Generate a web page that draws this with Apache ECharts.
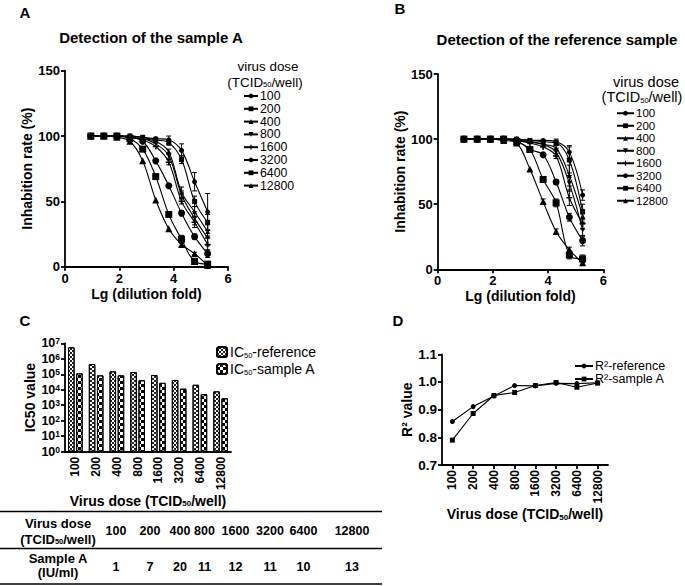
<!DOCTYPE html>
<html>
<head>
<meta charset="utf-8">
<script src="https://cdn.jsdelivr.net/npm/echarts@6/dist/echarts.min.js"></script>
<style>
html,body{margin:0;padding:0;background:#fff;}
#chart{width:685px;height:586px;}
</style>
</head>
<body>
<div id="chart"></div>
<script>
// ---- data ----
var lgDilution = [0.95, 1.43, 1.91, 2.39, 2.86, 3.34, 3.82, 4.29, 4.77, 5.25];
var doses = ['100', '200', '400', '800', '1600', '3200', '6400', '12800'];

// inhibition rate (%) of sample A, one row per virus dose
var inhibSampleA = [
	[100, 100, 100, 100, 99, 98, 97, 89, 65, 42],
	[100, 100, 100, 100, 99, 97, 95, 82, 50, 34],
	[100, 100, 100, 99, 98, 96, 88, 57, 42, 27],
	[100, 100, 100, 99, 98, 94, 85, 55, 37, 22],
	[100, 100, 100, 99, 97, 92, 80, 50, 34, 17],
	[100, 100, 100, 99, 96, 81, 62, 41, 23, 10],
	[100, 100, 100, 98, 90, 69, 40, 21, 4, 2],
	[100, 100, 99, 96, 81, 51, 29, 17, 10, 1]
];
var errSampleA = [
	[0, 0, 0, 0, 0, 1, 3, 5, 7, 14],
	[0, 0, 0, 0, 0, 0, 2, 3, 4, 6],
	[0, 0, 0, 0, 0, 0, 2, 4, 4, 5],
	[0, 0, 0, 0, 0, 0, 2, 3, 5, 6],
	[0, 0, 0, 0, 0, 0, 2, 2, 4, 5],
	[0, 0, 0, 0, 0, 0, 0, 2, 2, 3],
	[0, 0, 0, 0, 0, 0, 0, 3, 2, 1],
	[0, 0, 0, 0, 0, 0, 0, 2, 1, 1]
];

// inhibition rate (%) of the reference sample
var inhibRef = [
	[100, 100, 100, 100, 100, 99, 99, 98, 90, 57],
	[100, 100, 100, 100, 100, 99, 98, 97, 84, 44],
	[100, 100, 100, 100, 99, 98, 96, 93, 72, 41],
	[100, 100, 100, 100, 99, 98, 96, 90, 66, 30],
	[100, 100, 100, 100, 99, 97, 94, 87, 55, 35],
	[100, 100, 100, 100, 99, 92, 88, 67, 40, 22],
	[100, 100, 100, 100, 98, 92, 69, 51, 11, 8],
	[100, 100, 100, 99, 97, 77, 52, 29, 15, 5]
];
var errRef = [
	[0, 0, 0, 0, 0, 0, 0, 2, 5, 4],
	[0, 0, 0, 0, 0, 0, 0, 2, 10, 6],
	[0, 0, 0, 0, 0, 0, 0, 2, 8, 5],
	[0, 0, 0, 0, 0, 0, 0, 3, 6, 5],
	[0, 0, 0, 0, 0, 0, 0, 2, 6, 4],
	[0, 0, 0, 0, 0, 0, 0, 2, 3, 4],
	[0, 0, 0, 0, 0, 0, 2, 3, 3, 3],
	[0, 0, 0, 0, 0, 0, 2, 2, 2, 2]
];

var ic50Ref = [5.5e6, 4.6e5, 1.55e5, 1.38e5, 8.9e4, 4.3e4, 2.1e4, 7.9e3];
var ic50SampleA = [1.15e5, 8.5e4, 8.5e4, 4.1e4, 2.8e4, 1.17e4, 5.2e3, 2.8e3];

var r2Ref = [0.857, 0.911, 0.949, 0.987, 0.986, 0.995, 0.994, 0.997];
var r2SampleA = [0.790, 0.886, 0.951, 0.962, 0.987, 0.998, 0.981, 0.996];

var iuSampleA = [1, 7, 20, 11, 12, 11, 10, 13];

// ---- styles ----
var FF = '"Liberation Sans", Arial, Helvetica, sans-serif';
var markers = ['circle', 'rect', 'triangle', 'triangle', 'path://M3,0H5V3H8V5H5V8H3V5H0V3H3Z', 'circle', 'rect', 'triangle'];
var markerSize = [5, 5, 5, 5, 6, 7, 7, 7];
var markerRotate = [0, 0, 0, 180, 0, 0, 0, 0];

var subRich = {
	sub: {fontSize: 8, fontFamily: FF, fontWeight: 'bold', verticalAlign: 'bottom', lineHeight: 11}
};

function axisBase() {
	return {
		axisLine: {show: true, onZero: false, lineStyle: {color: '#000', width: 1.8}},
		axisTick: {show: true, inside: false, length: 4, lineStyle: {color: '#000', width: 1.8}},
		axisLabel: {color: '#000', fontFamily: FF, fontWeight: 'bold', fontSize: 13, margin: 5},
		splitLine: {show: false},
		nameTextStyle: {color: '#000', fontFamily: FF, fontWeight: 'bold', fontSize: 14, rich: subRich}
	};
}

function mk(base, extra) {
	return echarts.util.merge(base, extra, true);
}

function errRender(params, api) {
	var x = api.value(0), y = api.value(1), e = api.value(2);
	var hi = api.coord([x, y + e]);
	var lo = api.coord([x, Math.max(0, y - e)]);
	var w = 2.5;
	var st = {stroke: '#000', lineWidth: 1};
	return {
		type: 'group',
		children: [
			{type: 'line', shape: {x1: hi[0], y1: hi[1], x2: lo[0], y2: lo[1]}, style: st},
			{type: 'line', shape: {x1: hi[0] - w, y1: hi[1], x2: hi[0] + w, y2: hi[1]}, style: st},
			{type: 'line', shape: {x1: lo[0] - w, y1: lo[1], x2: lo[0] + w, y2: lo[1]}, style: st}
		]
	};
}

var series = [];
function addCurves(values, errs, axisIdx) {
	for (var i = 0; i < doses.length; i++) {
		var pts = [], eb = [];
		for (var j = 0; j < lgDilution.length; j++) {
			pts.push([lgDilution[j], values[i][j]]);
			if (errs[i][j] > 0) eb.push([lgDilution[j], values[i][j], errs[i][j]]);
		}
		series.push({
			type: 'line', name: doses[i], xAxisIndex: axisIdx, yAxisIndex: axisIdx,
			data: pts, smooth: 0.35, symbol: markers[i], symbolSize: markerSize[i],
			symbolRotate: markerRotate[i], showAllSymbol: true, z: 3,
			lineStyle: {color: '#000', width: 1.1}, itemStyle: {color: '#000'}
		});
		series.push({
			type: 'custom', xAxisIndex: axisIdx, yAxisIndex: axisIdx, silent: true, z: 2,
			renderItem: errRender, data: eb
		});
	}
}
addCurves(inhibSampleA, errSampleA, 0);
addCurves(inhibRef, errRef, 1);

var decalRef = {symbol: 'rect', symbolSize: 1, color: '#222', backgroundColor: '#fff',
	dashArrayX: [[1.5, 1.5], [0, 1.5, 1.5, 0]], dashArrayY: [1.5, 0], rotation: 0};
var decalA = {symbol: 'rect', symbolSize: 1, color: '#000', backgroundColor: '#fff',
	dashArrayX: [[3, 3], [0, 3, 3, 0]], dashArrayY: [3, 0], rotation: 0};

series.push({
	type: 'bar', name: 'IC50-reference', xAxisIndex: 2, yAxisIndex: 2, data: ic50Ref,
	barWidth: 6.5, barGap: '25%',
	itemStyle: {color: '#fff', borderColor: '#000', borderWidth: 1, decal: decalRef}
});
series.push({
	type: 'bar', name: 'IC50-sample A', xAxisIndex: 2, yAxisIndex: 2, data: ic50SampleA,
	barWidth: 6.5, barGap: '25%',
	itemStyle: {color: '#fff', borderColor: '#000', borderWidth: 1, decal: decalA}
});

series.push({
	type: 'line', name: 'R²-reference', xAxisIndex: 3, yAxisIndex: 3, data: r2Ref,
	symbol: 'circle', symbolSize: 5, lineStyle: {color: '#000', width: 1.1}, itemStyle: {color: '#000'}
});
series.push({
	type: 'line', name: 'R²-sample A', xAxisIndex: 3, yAxisIndex: 3, data: r2SampleA,
	symbol: 'rect', symbolSize: 5, lineStyle: {color: '#000', width: 1.1}, itemStyle: {color: '#000'}
});

// ---- free text and the table ----
function txt(x, y, text, size, bold, align) {
	return {
		type: 'text', x: x, y: y, silent: true,
		style: {
			text: text, fill: '#000', fontFamily: FF, fontSize: size,
			fontWeight: bold ? 'bold' : 'normal', align: align || 'center', verticalAlign: 'middle',
			rich: {sub: {fontSize: 7.5, fontFamily: FF, fontWeight: bold ? 'bold' : 'normal', verticalAlign: 'bottom', lineHeight: 11}}
		}
	};
}
function hline(x1, x2, y) {
	return {type: 'line', silent: true, shape: {x1: x1, y1: y, x2: x2, y2: y}, style: {stroke: '#000', lineWidth: 1.5}};
}

var graphics = [
	txt(25, 12, 'A', 15, true), txt(400, 8, 'B', 15, true),
	txt(25, 320, 'C', 15, true), txt(398, 320, 'D', 15, true),
	txt(151, 37, 'Detection of the sample A', 15, true),
	txt(557, 39, 'Detection of the reference sample', 15, true),
	txt(268, 66, 'virus dose', 13.4, false),
	txt(265, 82, '(TCID{sub|50}/well)', 13.4, false),
	txt(646, 82, 'virus dose', 14.5, false),
	txt(642, 97, '(TCID{sub|50}/well)', 14.5, false),
	hline(0, 382, 511.5), hline(0, 382, 548.5), hline(0, 382, 584),
	txt(58, 523, 'Virus dose', 13, true),
	txt(58, 539, '(TCID{sub|50}/well)', 13, true),
	txt(58, 558, 'Sample A', 13, true),
	txt(58, 572, '(IU/ml)', 13, true)
];
var colX = [116, 150, 180, 204.5, 235.5, 270, 303.5, 352];
for (var c = 0; c < doses.length; c++) {
	graphics.push(txt(colX[c], 531, doses[c], 12.5, true));
	graphics.push(txt(colX[c], 567, String(iuSampleA[c]), 12.5, true));
}

var option = {
	backgroundColor: '#fff',
	animation: false,
	grid: [
		{left: 65, top: 70.7, right: 457, bottom: 319.3},
		{left: 437.7, top: 74, right: 81.7, bottom: 316.7},
		{left: 65, top: 343.3, right: 454, bottom: 134.3},
		{left: 442, top: 354.3, right: 77, bottom: 121}
	],
	xAxis: [
		mk(axisBase(), {type: 'value', gridIndex: 0, min: 0, max: 6, interval: 2,
			name: 'Lg (dilution fold)', nameLocation: 'middle', nameGap: 20}),
		mk(axisBase(), {type: 'value', gridIndex: 1, min: 0, max: 6, interval: 2,
			name: 'Lg (dilution fold)', nameLocation: 'middle', nameGap: 20}),
		mk(axisBase(), {type: 'category', gridIndex: 2, data: doses,
			axisTick: {show: false}, axisLabel: {rotate: 90, fontSize: 12, margin: 5},
			name: 'Virus dose (TCID{sub|50}/well)', nameLocation: 'middle', nameGap: 42}),
		mk(axisBase(), {type: 'category', gridIndex: 3, data: doses, boundaryGap: true,
			axisTick: {show: true, alignWithLabel: true}, axisLabel: {rotate: 90, fontSize: 12, margin: 5},
			name: 'Virus dose (TCID{sub|50}/well)', nameLocation: 'middle', nameGap: 40})
	],
	yAxis: [
		mk(axisBase(), {type: 'value', gridIndex: 0, min: 0, max: 150, interval: 50,
			name: 'Inhabition rate (%)', nameLocation: 'middle', nameGap: 27.5}),
		mk(axisBase(), {type: 'value', gridIndex: 1, min: 0, max: 150, interval: 50,
			name: 'Inhabition rate (%)', nameLocation: 'middle', nameGap: 29}),
		mk(axisBase(), {type: 'log', gridIndex: 2, logBase: 10, min: 1, max: 1e7,
			axisLabel: {
				fontSize: 12.5, margin: 5,
				formatter: function (v) { return '10{sup|' + Math.round(Math.log10(v)) + '}'; },
				rich: {sup: {fontSize: 8.5, fontWeight: 'bold', fontFamily: FF, verticalAlign: 'top', lineHeight: 11}}
			},
			name: 'IC50 value', nameLocation: 'middle', nameGap: 27}),
		mk(axisBase(), {type: 'value', gridIndex: 3, min: 0.7, max: 1.1, interval: 0.1,
			axisLabel: {fontSize: 13.5, formatter: function (v) { return v.toFixed(1); }},
			name: 'R² value', nameLocation: 'middle', nameGap: 26})
	],
	legend: [
		{left: 243, top: 89.6, orient: 'vertical', padding: 0, itemGap: 0, itemWidth: 14, itemHeight: 6,
			textStyle: {fontFamily: FF, fontSize: 12.3, lineHeight: 12.8, color: '#000', padding: [0, 0, 0, -3]},
			data: doses, selectedMode: false},
		{left: 616, top: 107, orient: 'vertical', padding: 0, itemGap: 0, itemWidth: 17, itemHeight: 6,
			textStyle: {fontFamily: FF, fontSize: 11.5, lineHeight: 12.5, color: '#000', padding: [0, 0, 0, -3]},
			data: doses, selectedMode: false},
		{left: 216, top: 345, orient: 'vertical', padding: 0, itemGap: 3, itemWidth: 10, itemHeight: 10,
			textStyle: {fontFamily: FF, fontSize: 14, color: '#000', padding: [0, 0, 0, -2], rich: {sub: {fontSize: 7.5, fontFamily: FF, verticalAlign: 'bottom', lineHeight: 11}}},
			formatter: function (n) { return n.replace('IC50', 'IC{sub|50}'); },
			data: ['IC50-reference', 'IC50-sample A'], selectedMode: false},
		{left: 574, top: 359.5, orient: 'vertical', padding: 0, itemGap: 0, itemWidth: 18, itemHeight: 6,
			textStyle: {fontFamily: FF, fontSize: 12.5, lineHeight: 13, color: '#000', padding: [0, 0, 0, -3]},
			data: ['R²-reference', 'R²-sample A'], selectedMode: false}
	],
	graphic: graphics,
	series: series
};

var chart = echarts.init(document.getElementById('chart'), null, {renderer: 'svg'});
chart.setOption(option);
</script>
</body>
</html>
